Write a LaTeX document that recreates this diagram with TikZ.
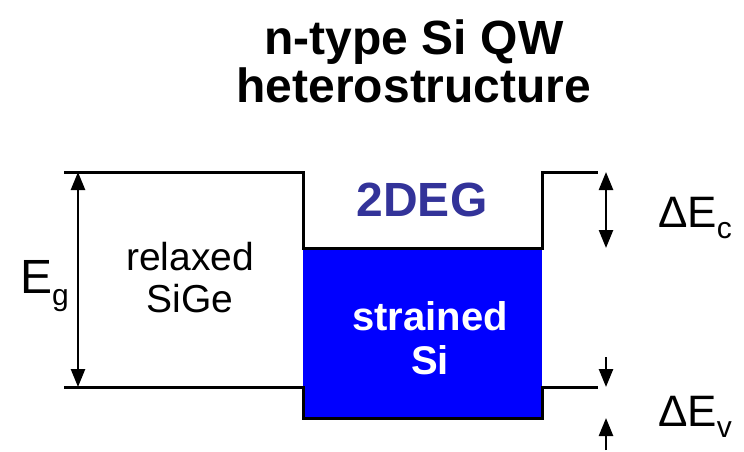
\documentclass[tikz,border=0pt]{standalone}
\usepackage{fontspec}
\setmainfont{Liberation Sans}
\usetikzlibrary{arrows.meta}
\definecolor{degblue}{HTML}{333399}
\definecolor{siblue}{HTML}{0000FF}
\tikzset{
  band/.style={line width=3pt, line join=miter},
  dim/.style={line width=2.5pt, -{Triangle[width=14pt,length=18pt]}},
  dimboth/.style={line width=2.5pt, {Triangle[width=14pt,length=18pt]}-{Triangle[width=14pt,length=18pt]}},
  lbl/.style={inner sep=0pt, anchor=base, align=center},
}
\begin{document}
\begin{tikzpicture}[x=1pt,y=-1pt]
\useasboundingbox (0,0) rectangle (744,452);
% strained Si well
\fill[siblue] (303,248) rectangle (542,418);
% conduction band
\draw[band] (64,172) -- (303,172) -- (303,248) -- (542,248) -- (542,172) -- (598,172);
% valence band
\draw[band] (64,387) -- (303,387) -- (303,418) -- (542,418) -- (542,387) -- (598,387);
% title
\node[lbl, font=\bfseries\fontsize{48}{52}\selectfont] (t1) at (414,55) {n-type Si QW};
\node[lbl, font=\bfseries\fontsize{48}{52}\selectfont] (t2) at (414,102) {heterostructure};
% labels
\node[lbl, font=\fontsize{39}{42}\selectfont] (relax) at (190,270) {relaxed};
\node[lbl, font=\fontsize{39}{42}\selectfont] (sige) at (190,312) {SiGe};
\node[lbl, font=\bfseries\fontsize{48}{52}\selectfont, text=degblue] (deg) at (422,216) {2DEG};
\node[lbl, font=\bfseries\fontsize{40}{44}\selectfont, text=white] (str) at (430,330) {strained};
\node[lbl, font=\bfseries\fontsize{40}{44}\selectfont, text=white] (si) at (430,374) {Si};
\node[lbl, anchor=base west, font=\fontsize{48}{52}\selectfont] (eg) at (20,293) {E\raisebox{-0.25em}{\fontsize{30}{32}\selectfont g}};
\node[lbl, anchor=base west, font=\fontsize{44}{48}\selectfont] (dec) at (658,227) {ΔE\raisebox{-0.25em}{\fontsize{30}{32}\selectfont c}};
\node[lbl, anchor=base west, font=\fontsize{44}{48}\selectfont] (dev) at (658,426) {ΔE\raisebox{-0.25em}{\fontsize{30}{32}\selectfont v}};
% dimension arrows
\coordinate (egtop) at (78,172);
\coordinate (egbot) at (78,387);
\draw[dimboth] (egtop) -- (egbot);
\coordinate (ctop) at (606,172);
\coordinate (cbot) at (606,248);
\draw[dimboth] (ctop) -- (cbot);
\coordinate (vtop0) at (606,357);
\coordinate (vtop) at (606,387);
\draw[dim] (vtop0) -- (vtop);
\coordinate (vbot0) at (606,450);
\coordinate (vbot) at (606,418);
\draw[dim] (vbot0) -- (vbot);
\end{tikzpicture}
\end{document}
